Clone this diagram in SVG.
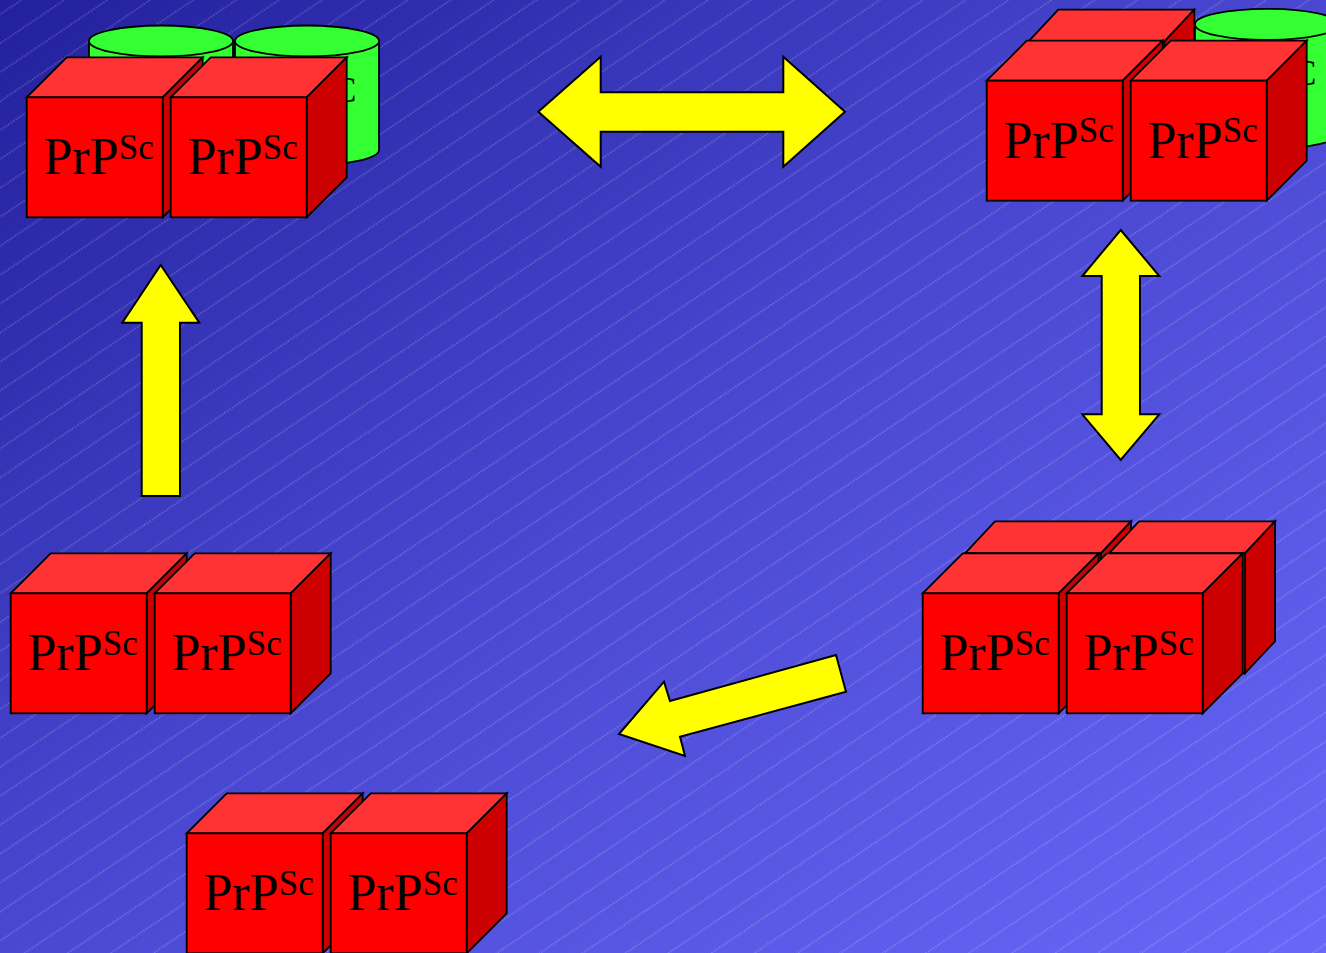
<svg xmlns="http://www.w3.org/2000/svg" xmlns:xlink="http://www.w3.org/1999/xlink" width="1326" height="953" viewBox="0 0 1326 953">
  <style>
    .ln { stroke: #000; stroke-width: 1.8; stroke-linejoin: miter; }
    .front { fill: #ff0000; }
    .top { fill: #ff3333; }
    .side { fill: #cc0000; }
    .cyl { fill: #33ff33; }
    .arrow { fill: #ffff00; stroke: #000; stroke-width: 2; stroke-linejoin: miter; }
    .lbl { font-family: "Liberation Serif", "Times New Roman", serif; font-size: 52px; fill: #000; }
    .sup { font-size: 35px; }
  </style>
  <defs>
    <linearGradient id="bg" x1="0" y1="0" x2="1" y2="1">
      <stop offset="0" stop-color="#22209c"/>
      <stop offset="0.5" stop-color="#4a48d2"/>
      <stop offset="1" stop-color="#6868f8"/>
    </linearGradient>
    <pattern id="hatch" width="60" height="24" patternUnits="userSpaceOnUse" patternTransform="rotate(-34)">
      <line x1="0" y1="12" x2="60" y2="12" stroke="#ffffff" stroke-opacity="0.38" stroke-width="1" stroke-dasharray="1.5 1.5"/>
    </pattern>
    <!-- cube: front face at origin, 136 x 120, depth offset (40,-40) -->
    <g id="cube">
      <polygon class="top ln" points="0,0 40,-40 176,-40 136,0"/>
      <polygon class="side ln" points="136,0 176,-40 176,80 136,120"/>
      <rect class="front ln" x="0" y="0" width="136" height="120"/>
    </g>
    <!-- back-row cube: shallower depth -->
    <g id="cubeBack">
      <polygon class="top ln" points="0,0 30,-32 166,-32 136,0"/>
      <polygon class="side ln" points="136,0 166,-32 166,88 136,120"/>
      <rect class="front ln" x="0" y="0" width="136" height="120"/>
    </g>
    <!-- cylinder: 144 wide, top ellipse centre at y=16 -->
    <g id="cylinder">
      <path class="cyl ln" d="M0,16 L0,125 A72,15.5 0 0 0 144,125 L144,16"/>
      <ellipse class="cyl ln" cx="72" cy="16" rx="72" ry="15.5"/>
    </g>
  </defs>

  <!-- background -->
  <rect x="0" y="0" width="1326" height="953" fill="url(#bg)"/>
  <rect x="0" y="0" width="1326" height="953" fill="url(#hatch)"/>

  <!-- top-left: two PrPSc cubes in front of two PrPC cylinders -->
  <g id="node-top-left">
    <use xlink:href="#cylinder" x="89" y="25"/>
    <text class="lbl" x="161" y="117.6" text-anchor="middle">PrP<tspan class="sup" dy="-15.6">C</tspan></text>
    <use xlink:href="#cylinder" x="235" y="25"/>
    <text class="lbl" x="307" y="117.6" text-anchor="middle">PrP<tspan class="sup" dy="-15.6">C</tspan></text>
    <use xlink:href="#cube" x="26.7" y="97.3"/>
    <text class="lbl" x="43.7" y="174.3">PrP<tspan class="sup" dy="-15.6">Sc</tspan></text>
    <use xlink:href="#cube" x="170.7" y="97.3"/>
    <text class="lbl" x="187.7" y="174.3">PrP<tspan class="sup" dy="-15.6">Sc</tspan></text>
  </g>

  <!-- top-right: cubes stacking, one cylinder left -->
  <g id="node-top-right">
    <use xlink:href="#cylinder" x="1195" y="8.4"/>
    <text class="lbl" x="1267" y="101" text-anchor="middle">PrP<tspan class="sup" dy="-15.6">C</tspan></text>
    <use xlink:href="#cubeBack" x="1028.3" y="41.7"/>
    <use xlink:href="#cube" x="986.7" y="80.7"/>
    <text class="lbl" x="1003.7" y="157.7">PrP<tspan class="sup" dy="-15.6">Sc</tspan></text>
    <use xlink:href="#cube" x="1130.7" y="80.7"/>
    <text class="lbl" x="1147.7" y="157.7">PrP<tspan class="sup" dy="-15.6">Sc</tspan></text>
  </g>

  <!-- bottom-right: 2 x 2 block -->
  <g id="node-bottom-right">
    <use xlink:href="#cubeBack" x="965" y="553.3"/>
    <use xlink:href="#cubeBack" x="1109" y="553.3"/>
    <use xlink:href="#cube" x="922.7" y="593.3"/>
    <text class="lbl" x="939.7" y="670.3">PrP<tspan class="sup" dy="-15.6">Sc</tspan></text>
    <use xlink:href="#cube" x="1066.7" y="593.3"/>
    <text class="lbl" x="1083.7" y="670.3">PrP<tspan class="sup" dy="-15.6">Sc</tspan></text>
  </g>

  <!-- bottom: pair split off -->
  <g id="node-bottom">
    <use xlink:href="#cube" x="186.7" y="833.3"/>
    <text class="lbl" x="203.7" y="910.3">PrP<tspan class="sup" dy="-15.6">Sc</tspan></text>
    <use xlink:href="#cube" x="330.7" y="833.3"/>
    <text class="lbl" x="347.7" y="910.3">PrP<tspan class="sup" dy="-15.6">Sc</tspan></text>
  </g>

  <!-- bottom-left: free pair -->
  <g id="node-bottom-left">
    <use xlink:href="#cube" x="10.7" y="593.3"/>
    <text class="lbl" x="27.7" y="670.3">PrP<tspan class="sup" dy="-15.6">Sc</tspan></text>
    <use xlink:href="#cube" x="154.7" y="593.3"/>
    <text class="lbl" x="171.7" y="670.3">PrP<tspan class="sup" dy="-15.6">Sc</tspan></text>
  </g>

  <!-- block arrows -->
  <g id="connectors">
    <polygon class="arrow" points="538.3,111.7 600.7,56.7 600.7,92.3 783.3,92.3 783.3,56.7 845,111.7 783.3,166.7 783.3,131.7 600.7,131.7 600.7,166.7"/>
    <polygon class="arrow" points="1120.7,230 1159.3,276 1140,276 1140,414.3 1159.3,414.3 1120.7,460 1082.3,414.3 1101.7,414.3 1101.7,276 1082.3,276"/>
    <polygon class="arrow" points="619,734 664,681.7 670,701 836,655 846,691.7 680,736.7 685,756"/>
    <polygon class="arrow" points="160.7,265 199.3,322.7 180,322.7 180,496 141.7,496 141.7,322.7 122.3,322.7"/>
  </g>
</svg>
